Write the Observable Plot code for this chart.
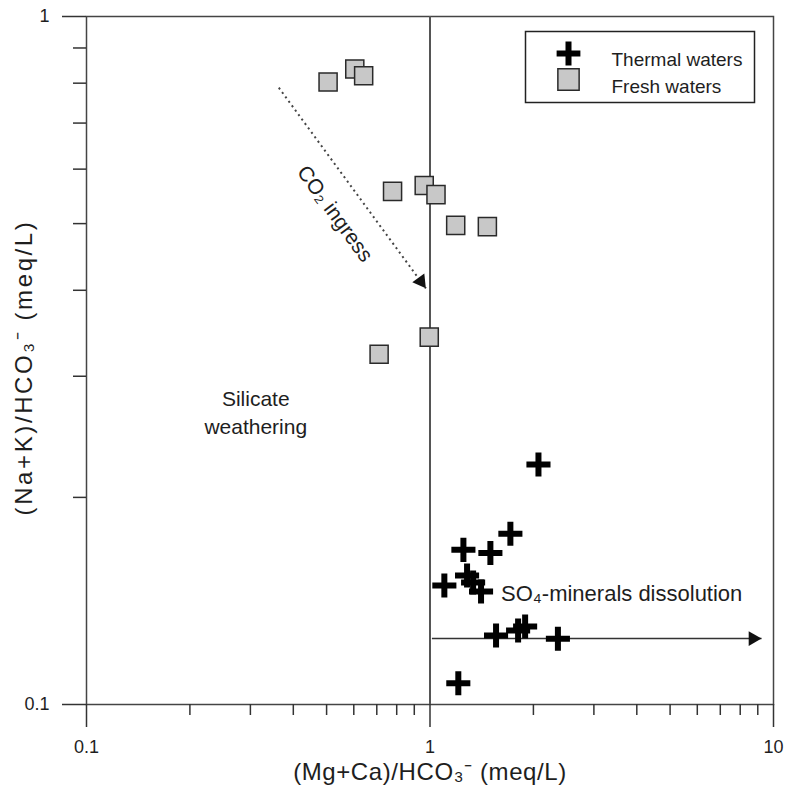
<!DOCTYPE html>
<html><head><meta charset="utf-8">
<script src="https://cdn.jsdelivr.net/npm/d3@7"></script>
<script src="https://cdn.jsdelivr.net/npm/@observablehq/plot@0.6"></script>
<style>
body{margin:0;background:#fff}
</style>
</head><body><div id="chart"></div>
<script>
// Fresh waters (squares)
const freshX = [0.505, 0.604, 0.641, 0.778, 0.962, 1.041, 1.188, 1.469, 0.995, 0.711];
const freshY = [0.803, 0.839, 0.820, 0.557, 0.568, 0.551, 0.497, 0.495, 0.342, 0.323];
// Thermal waters (crosses)
const thermalX = [2.069, 1.714, 1.251, 1.499, 1.282, 1.101, 1.335, 1.408, 1.557, 1.805, 1.892, 2.357, 1.209];
const thermalY = [0.2233, 0.1771, 0.1678, 0.1660, 0.1540, 0.1489, 0.1504, 0.1460, 0.1260, 0.1281, 0.1298, 0.1246, 0.1074];
// Axis ticks
const xMajorTicks = [0.1, 1, 10];
const xMinorTicks = [0.2, 0.3, 0.4, 0.5, 0.6, 0.7, 0.8, 0.9, 2, 3, 4, 5, 6, 7, 8, 9];
const yMajorTicks = [0.1, 1];
const yMinorTicks = [0.2, 0.3, 0.4, 0.5, 0.6, 0.7, 0.8, 0.9];
// Texts
const seriesNames = ["Thermal waters", "Fresh waters"];
const xLabel = "(Mg+Ca)/HCO₃⁻ (meq/L)";
const yLabel = "(Na+K)/HCO₃⁻ (meq/L)";
// Reference line and annotations
const dividerX = [1];
const co2Arrow = [{x1: 0.363, y1: 0.788, x2: 0.973, y2: 0.4025}];
const so4Arrow = [{x1: 1.013, y1: 0.1247, x2: 9.23, y2: 0.1247}];
const notes = [
  {x: 0.311, y: 0.2666, text: "Silicate\nweathering", rotate: 0, anchor: "middle"},
  {x: 0.535, y: 0.519, text: "CO₂ ingress", rotate: 54, anchor: "middle"},
  {x: 1.61, y: 0.1450, text: "SO₄-minerals dissolution", rotate: 0, anchor: "start"}
];

const fresh = freshX.map((x, i) => ({x, y: freshY[i]}));
const thermal = thermalX.map((x, i) => ({x, y: thermalY[i]}));
const ink = "#1e1e1e";
const fmt = d => String(d);

const chart = Plot.plot({
  width: 787, height: 794,
  marginLeft: 86, marginRight: 14, marginTop: 16, marginBottom: 90,
  style: {fontFamily: "'Liberation Sans', Arial, sans-serif", fontSize: "18px", color: ink, background: "#fff"},
  x: {type: "log", domain: [0.1, 10]},
  y: {type: "log", domain: [0.1, 1]},
  marks: [
    Plot.frame({stroke: "#444", strokeWidth: 1.5}),
    Plot.ruleX(dividerX, {stroke: "#555", strokeWidth: 2}),
    Plot.axisX(xMajorTicks, {tickSize: 23, tickPadding: 13, tickFormat: fmt, stroke: "#333", strokeWidth: 1.5, fill: ink, fontSize: 18, label: null}),
    Plot.axisX(xMinorTicks, {tickSize: 11, stroke: "#333", strokeWidth: 1.5, fill: "none", label: null}),
    Plot.axisY(yMajorTicks, {tickSize: 24, tickPadding: 13, tickFormat: fmt, stroke: "#333", strokeWidth: 1.5, fill: ink, fontSize: 18, label: null}),
    Plot.axisY(yMinorTicks, {tickSize: 13, stroke: "#333", strokeWidth: 1.5, fill: "none", label: null}),
    // CO2 dotted arrow
    Plot.link(co2Arrow, {x1: "x1", y1: "y1", x2: "x2", y2: "y2", stroke: "#444", strokeWidth: 2, strokeDasharray: "2,3.5"}),
    Plot.dot(co2Arrow, {x: "x2", y: "y2", symbol: "triangle", r: 5.5, fill: "#111", stroke: "none", rotate: 144, dx: -5.1, dy: -7.0}),
    // SO4 arrow
    Plot.link(so4Arrow, {x1: "x1", y1: "y1", x2: "x2", y2: "y2", stroke: "#333", strokeWidth: 1.5}),
    Plot.dot(so4Arrow, {x: "x2", y: "y2", symbol: "triangle", r: 5.5, fill: "#111", stroke: "none", rotate: 90, dx: -8.6}),
    // data
    Plot.dot(fresh, {x: "x", y: "y", symbol: "square", r: 10.2, fill: "#c8c8c8", stroke: "#2a2a2a", strokeWidth: 1.5}),
    Plot.dot(thermal, {x: "x", y: "y", symbol: "plus", r: 7.8, stroke: "#000", strokeWidth: 6}),
    // annotations
    Plot.text(notes.filter(d => d.anchor === "middle"), {x: "x", y: "y", text: "text", rotate: "rotate", fontSize: 21, lineHeight: 1.33, fill: ink}),
    Plot.text(notes.filter(d => d.anchor === "start"), {x: "x", y: "y", text: "text", textAnchor: "start", fontSize: 22, fill: ink}),
    // legend
    Plot.frame({insetTop: 15, insetRight: 19, insetLeft: 439, insetBottom: 602, stroke: "#222", strokeWidth: 1.5, fill: "#fff"}),
    Plot.dot([seriesNames[0]], {frameAnchor: "top-right", dx: -205, dy: 37, symbol: "plus", r: 7.7, stroke: "#000", strokeWidth: 6}),
    Plot.dot([seriesNames[1]], {frameAnchor: "top-right", dx: -205, dy: 63, symbol: "square", r: 12, fill: "#c8c8c8", stroke: "#2a2a2a", strokeWidth: 1.5}),
    Plot.text([seriesNames[0]], {frameAnchor: "top-right", dx: -162, dy: 36, textAnchor: "start", fontSize: 19, fill: ink}),
    Plot.text([seriesNames[1]], {frameAnchor: "top-right", dx: -162, dy: 63, textAnchor: "start", fontSize: 19, fill: ink}),
    // axis labels
    Plot.text([xLabel], {frameAnchor: "bottom", textAnchor: "middle", dy: 75.5, fontSize: 24, fill: ink}),
    Plot.text([yLabel], {frameAnchor: "left", textAnchor: "middle", rotate: -90, dx: -62, dy: 7, fontSize: 24, fill: ink})
  ]
});
document.getElementById("chart").appendChild(chart);

// text styling tweaks
const svg = d3.select(chart);
svg.selectAll("text").each(function() {
  const t = this.textContent;
  if (t === yLabel) d3.select(this).style("letter-spacing", "2.6px");
  if (t === xLabel) d3.select(this).style("letter-spacing", "0.6px");
});
</script>
</body></html>
